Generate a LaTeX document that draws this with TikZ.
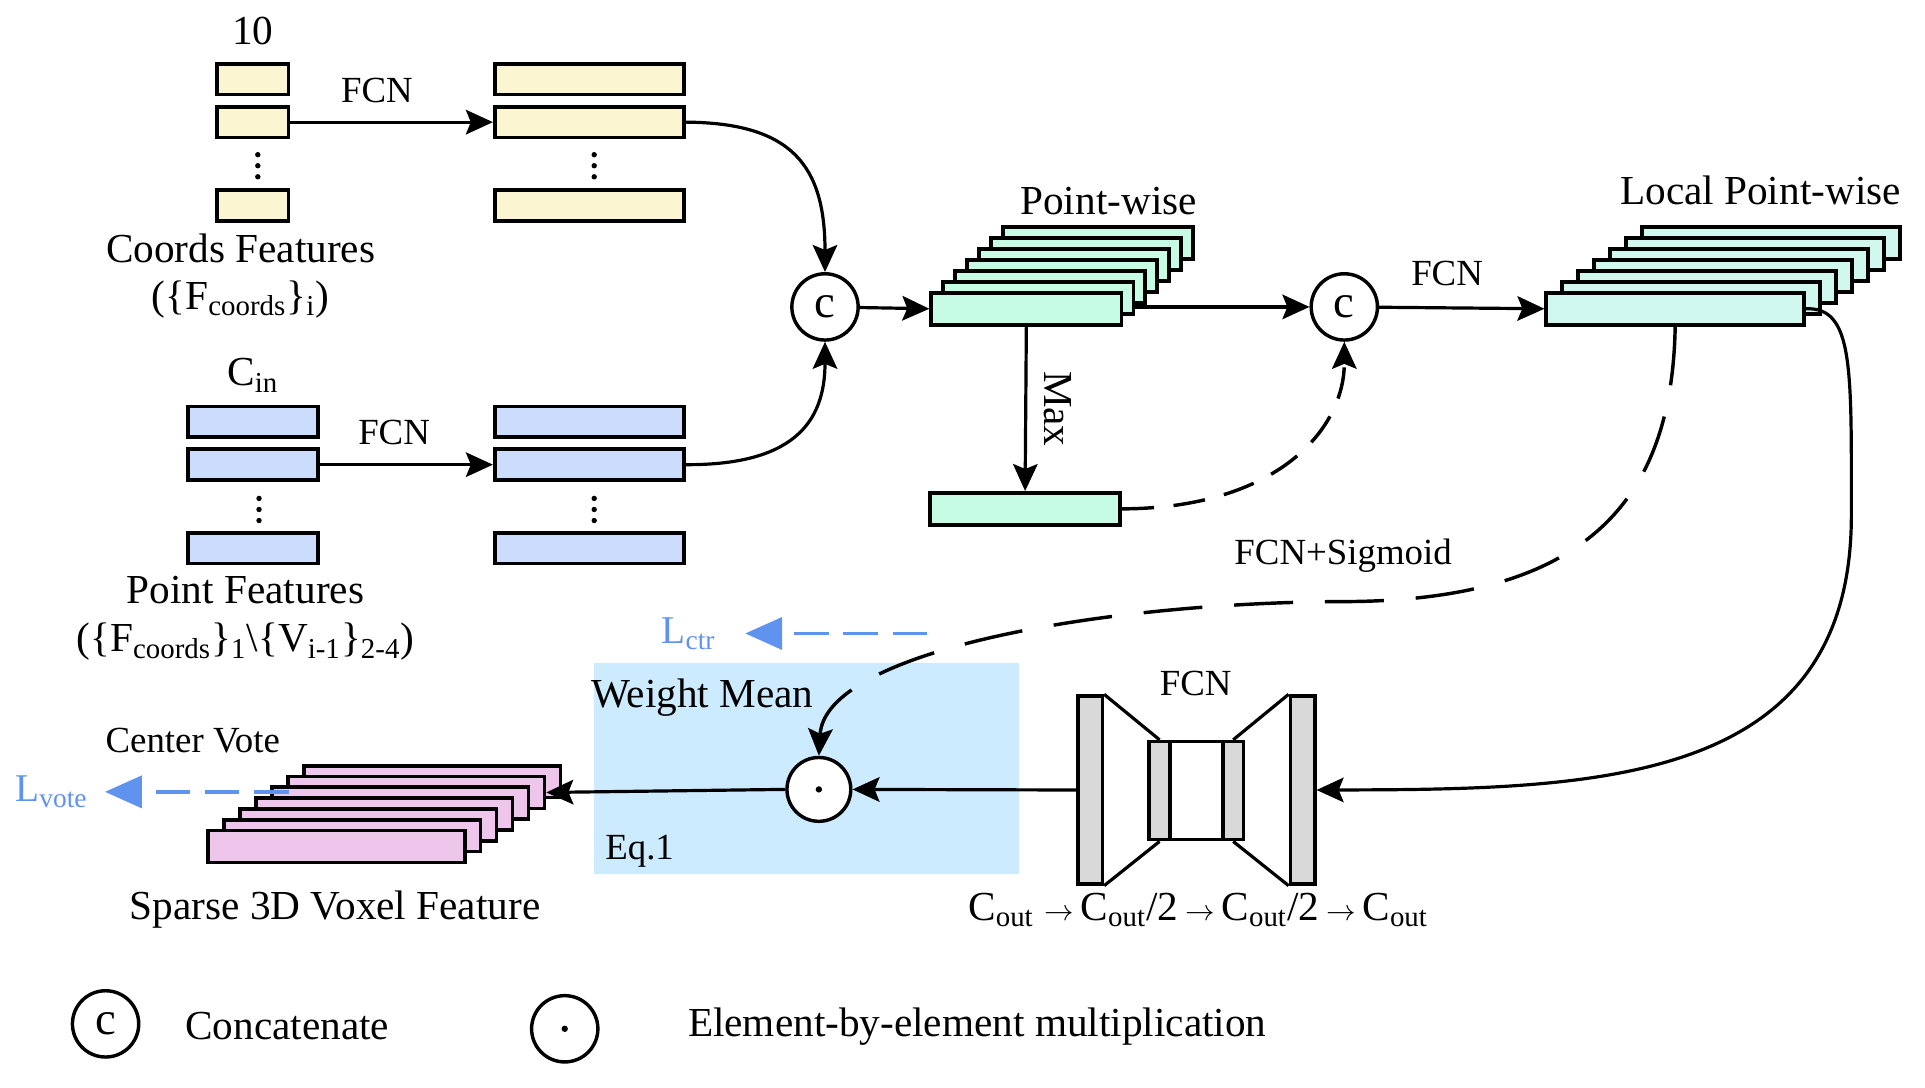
\documentclass[tikz,border=0pt]{standalone}
\usepackage{fontspec}
\setmainfont{Liberation Serif}
\usetikzlibrary{arrows.meta,positioning}

\definecolor{coordyellow}{HTML}{FBF6D1}
\definecolor{pointblue}{HTML}{CCDCFD}
\definecolor{pwgreen}{HTML}{C6FCE4}
\definecolor{localgreen}{HTML}{D0F8EE}
\definecolor{voxelpink}{HTML}{EEC6EC}
\definecolor{meanblue}{HTML}{CCEBFF}
\definecolor{fcngray}{HTML}{D9D9D9}
\definecolor{lossblue}{RGB}{96,146,240}

\begin{document}
\begin{tikzpicture}[
    x=0.5pt, y=-0.5pt,
    font=\fontsize{16.8}{20}\selectfont,
    >={Stealth[length=11pt,width=10pt,inset=2pt]},
    line width=1.3pt,
    feat/.style={draw, line width=1.5pt, minimum height=12.5pt, inner sep=0pt},
    coordbox/.style={feat, fill=coordyellow},
    pointbox/.style={feat, fill=pointblue},
    pwbox/.style={feat, fill=pwgreen, minimum width=77.5pt, minimum height=13pt},
    localbox/.style={feat, fill=localgreen, minimum width=105pt, minimum height=13pt},
    voxbox/.style={feat, fill=voxelpink, minimum width=104.5pt, minimum height=13pt},
    opcirc/.style={draw, circle, fill=white, line width=1.4pt, minimum size=27pt, inner sep=0pt, font=\fontsize{19}{20}\selectfont},
    graybar/.style={draw, fill=fcngray, line width=1.4pt, inner sep=0pt},
    smalltext/.style={font=\fontsize{15}{18}\selectfont},
    dashline/.style={line width=1.4pt, dash pattern=on 13pt off 8pt},
    longdash/.style={line width=1.4pt, dash pattern=on 24pt off 13pt},
    lossline/.style={draw=lossblue, line width=1.6pt, dash pattern=on 14pt off 6pt, -{Triangle[length=15pt,width=13pt]}},
    losstext/.style={text=lossblue, font=\fontsize{16}{18}\selectfont}
]
\useasboundingbox (0,0) rectangle (1568,886);
\fill[meanblue] (484,540) rectangle (830,712);

\node[coordbox, minimum width=29pt] (cs1) at (206,64.5) {};
\node[coordbox, minimum width=29pt, below=3.5pt of cs1] (cs2) {};
\node[coordbox, minimum width=29pt, below=20pt of cs2] (cs3) {};
\node[above=3pt of cs1] (ten) {10};

\node[coordbox, minimum width=77pt] (cb1) at (480,64.5) {};
\node[coordbox, minimum width=77pt, below=3.5pt of cb1] (cb2) {};
\node[coordbox, minimum width=77pt, below=20pt of cb2] (cb3) {};
\draw[->] (cs2) -- node[above=4pt, xshift=-6pt, smalltext] {FCN} (cb2);

\node (coordlabel) at (196,202) {Coords Features};
\node (coordsym) at (196,244) {(\{F\textsubscript{coords}\}\textsubscript{i})};

\node[pointbox, minimum width=53pt] (ps1) at (206,343.5) {};
\node[pointbox, minimum width=53pt, below=3.5pt of ps1] (ps2) {};
\node[pointbox, minimum width=53pt, below=20pt of ps2] (ps3) {};
\node[above=1pt of ps1] (cin) {C\textsubscript{in}};

\node[pointbox, minimum width=77pt] (pb1) at (480,343.5) {};
\node[pointbox, minimum width=77pt, below=3.5pt of pb1] (pb2) {};
\node[pointbox, minimum width=77pt, below=20pt of pb2] (pb3) {};
\draw[->] (ps2) -- node[above=4pt, xshift=-5pt, smalltext] {FCN} (pb2);

\foreach \dx/\dy in {210/126, 484/126, 211/406, 484/406}
  \foreach \k in {0,1,2}
    \fill (\dx,{\dy+9*\k}) circle (1.1pt);

\node (pointlabel) at (200,481) {Point Features};
\node (pointsym) at (200,523) {(\{F\textsubscript{coords}\}\textsubscript{1}\textbackslash\{V\textsubscript{i-1}\}\textsubscript{2-4})};

\node[opcirc] (cat1) at (672,250) {c};
\draw[->] (cb2.east) .. controls (645,100) and (672,135) .. (cat1.north);
\draw[->] (pb2.east) .. controls (645,379) and (672,345) .. (cat1.south);

\foreach \i in {6,5,...,0}
  \node[pwbox, anchor=north west] (pw\i) at ({757+9.7*\i},{237-8.9*\i}) {};
\node (pwlabel) at (903,164) {Point-wise};
\draw[->] (cat1) -- (pw0.west);

\node[opcirc] (cat2) at (1095,250) {c};
\draw[->] (pw1.east |- cat2) -- (cat2);

\node[pwbox] (maxf) at (835,414.5) {};
\draw[->] (pw0.south) -- (maxf.north);
\node[rotate=-90] (maxlabel) at (862,333) {Max};
\draw[dashline, ->] (maxf.east) .. controls (1040,414) and (1095,350) .. (cat2.south);

\foreach \i in {6,5,...,0}
  \node[localbox, anchor=north west] (lp\i) at ({1258+13*\i},{237-8.9*\i}) {};
\node (lplabel) at (1434,155) {Local Point-wise};
\draw[->] (cat2) -- node[above=5pt, xshift=-6pt, smalltext] {FCN} (lp0.west);

\node[graybar, minimum width=10pt, minimum height=76.5pt] (fcnl) at (888,643.5) {};
\node[graybar, minimum width=10pt, minimum height=76.5pt] (fcnr) at (1061,643.5) {};
\node[draw, fill=white, line width=1.4pt, minimum width=38.5pt, minimum height=40pt, inner sep=0pt] (fcnm) at (974.5,644) {};
\node[graybar, minimum width=8.5pt, minimum height=40pt, anchor=west] (fcngl) at (fcnm.west) {};
\node[graybar, minimum width=8.5pt, minimum height=40pt, anchor=east] (fcngr) at (fcnm.east) {};
\draw (fcnl.north east) -- (fcngl.north);
\draw (fcnl.south east) -- (fcngl.south);
\draw (fcngr.north) -- (fcnr.north west);
\draw (fcngr.south) -- (fcnr.south west);
\node[smalltext] (fcnlabel) at (974,557) {FCN};
\node (chanlabel) at (976,741) {C\textsubscript{out}\ {\fontsize{13}{13}\selectfont$\to$}\,C\textsubscript{out}/2\,{\fontsize{13}{13}\selectfont$\to$}\,C\textsubscript{out}/2\,{\fontsize{13}{13}\selectfont$\to$}\,C\textsubscript{out}};

\draw[->] (lp0.east) .. controls (1510,250) and (1508,300) .. (1508,420) .. controls (1508,640) and (1300,643) .. (fcnr.east);

\node[opcirc, minimum size=26pt] (mul) at (667,643) {};
\fill (mul) circle (1.3pt);
\draw[->] (fcnl.west) -- (mul.east);

\foreach \i in {6,5,...,0}
  \node[voxbox, anchor=north west] (vx\i) at ({168+13*\i},{675-8.8*\i}) {};
\draw[->] (mul.west) -- (vx5.east);
\node[smalltext] (votelabel) at (157,603) {Center Vote};
\node (voxlabel) at (273,741) {Sparse 3D Voxel Feature};

\draw[longdash, ->] (lp0.south) .. controls (1362,410) and (1290,488) .. (1100,490) .. controls (900,490) and (672,530) .. (mul.north);
\node[smalltext] (sigmoidlabel) at (1094,453) {FCN+Sigmoid};

\node (meanlabel) at (572,568) {Weight Mean};
\node[smalltext] (eqlabel) at (521,693) {Eq.1};

\coordinate (ctrstart) at (755,516);
\node[losstext] (lctr) at (561,516) {L\textsubscript{ctr}};
\draw[lossline, shorten >=8pt] (ctrstart) -- (lctr.east);

\coordinate (votestart) at (235,645);
\node[losstext] (lvote) at (42,645) {L\textsubscript{vote}};
\draw[lossline, shorten >=3pt] (votestart) -- (lvote.east);

\node[opcirc] (legc) at (86,834) {c};
\node (legctext) at (234,836) {Concatenate};
\node[opcirc] (legm) at (460,838) {};
\fill (legm) circle (1.3pt);
\node (legmtext) at (796,836) {Element-by-element multiplication};
\end{tikzpicture}
\end{document}
